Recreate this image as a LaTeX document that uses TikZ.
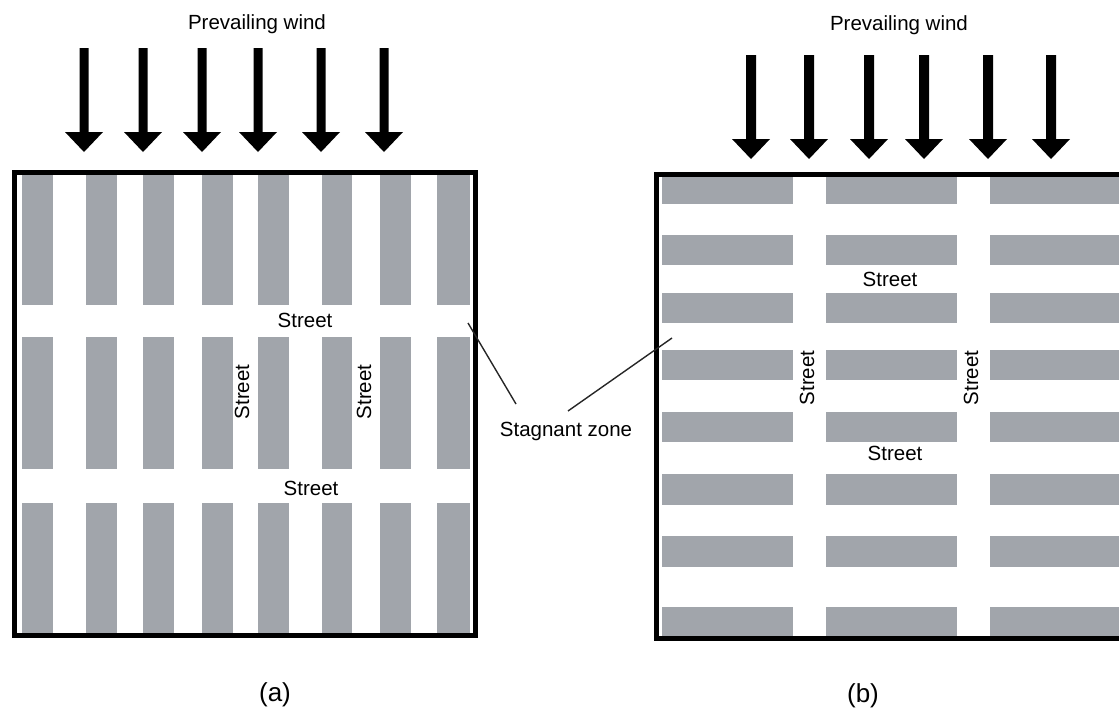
\documentclass[tikz,border=0pt]{standalone}
\usepackage{fontspec}
\setmainfont{Liberation Sans}
\definecolor{bldg}{RGB}{161,165,171}
\begin{document}
\begin{tikzpicture}[x=1pt,y=-1pt,
  lbl/.style={inner sep=0pt,font=\fontsize{20.5}{24}\selectfont},
  captxt/.style={inner sep=0pt,font=\fontsize{26}{30}\selectfont},
  framestyle/.style={line width=5pt},
  leader/.style={line width=1.4pt,black!85}]
\useasboundingbox (0,0) rectangle (1119,713);
% ---------- panel (a) buildings ----------
\foreach \xa/\xb in {22/53,86/117,143/174,202/233,258/289,322/352,380/411,437/470}{
  \foreach \ya/\yb in {175/305,337/469,503/633}{
    \fill[bldg] (\xa,\ya) rectangle (\xb,\yb);
  }
}
\draw[framestyle] (14.5,172.5) rectangle (475,635.5);
% ---------- panel (b) buildings ----------
\foreach \xa/\xb in {662/793,826/957,990/1119}{
  \foreach \ya/\yb in {177/204,235/265,293/323,350/380,412/442,474/505,536/567,607/637}{
    \fill[bldg] (\xa,\ya) rectangle (\xb,\yb);
  }
}
\draw[framestyle] (1121,174.5) -- (656,174.5) -- (656,638) -- (1121,638);
% ---------- wind arrows ----------
\foreach \x in {84,143,202,258,321,384}{
  \fill (\x-4.5,48) -- (\x+4.5,48) -- (\x+4.5,132) -- (\x+19,132) -- (\x,152) -- (\x-19,132) -- (\x-4.5,132) -- cycle;
}
\foreach \x in {751,809,869,924,988,1051}{
  \fill (\x-5,55) -- (\x+5,55) -- (\x+5,139) -- (\x+19,139) -- (\x,159) -- (\x-19,139) -- (\x-5,139) -- cycle;
}
\node[lbl] (pwa) at (257,24) {Prevailing wind};
\node[lbl] (pwb) at (899,25) {Prevailing wind};
% ---------- street labels (a) ----------
\node[lbl] (sa1) at (305,320) {Street};
\node[lbl] (sa2) at (311,488) {Street};
\node[lbl,rotate=90] (sa3) at (242,392) {Street};
\node[lbl,rotate=90] (sa4) at (364,392) {Street};
% ---------- street labels (b) ----------
\node[lbl] (sb1) at (890,279) {Street};
\node[lbl] (sb2) at (895,453) {Street};
\node[lbl,rotate=90] (sb3) at (807,378) {Street};
\node[lbl,rotate=90] (sb4) at (971,378) {Street};
% ---------- stagnant zone ----------
\node[lbl] (stag) at (566,431) {Stagnant zone};
\coordinate (za) at (468,323);
\coordinate (zb) at (672,338);
\coordinate (sl) at (516,404);
\coordinate (sr) at (568,411);
\draw[leader] (sl) -- (za);
\draw[leader] (sr) -- (zb);
% ---------- captions ----------
\node[captxt] (capa) at (275,695) {(a)};
\node[captxt] (capb) at (863,696) {(b)};
\end{tikzpicture}
\end{document}
